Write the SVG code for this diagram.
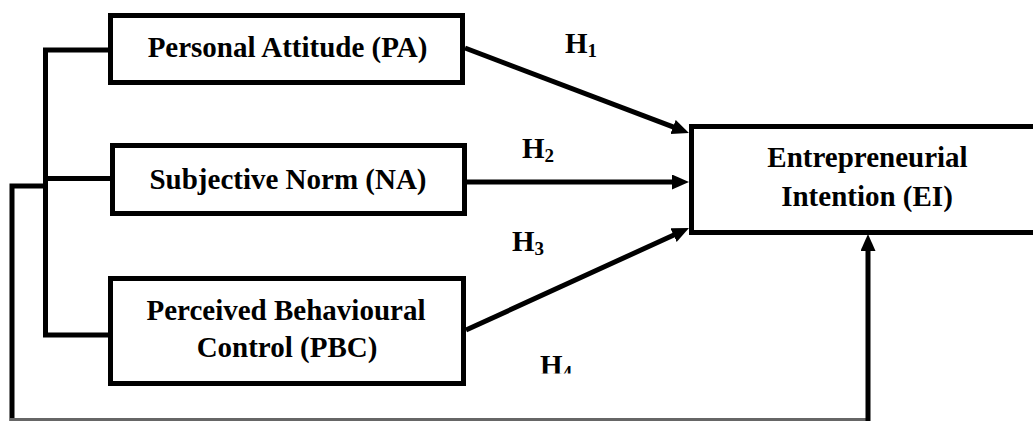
<svg xmlns="http://www.w3.org/2000/svg" width="1033" height="421" viewBox="0 0 1033 421">
<style>
.box{fill:#fff;stroke:#000;stroke-width:5}
.lbl{font-family:"Liberation Serif","Times New Roman",serif;font-weight:bold;font-size:29px;fill:#000;text-anchor:middle}
.h{font-family:"Liberation Serif","Times New Roman",serif;font-weight:bold;font-size:29px;fill:#000}
.sub{font-size:19px}
.ln{fill:none;stroke:#000;stroke-width:5}
.arr{fill:none;stroke:#000;stroke-width:5;marker-end:url(#ah)}
</style>
<defs>
<marker id="ah" markerUnits="userSpaceOnUse" markerWidth="18" markerHeight="16" refX="7" refY="7.5" orient="auto" viewBox="0 0 18 16">
<path d="M0,0 L17,7.5 L0,15 z" fill="#000"/>
</marker>
<clipPath id="h4clip"><rect x="520" y="330" width="80" height="43.5"/></clipPath>
</defs>
<rect width="1033" height="421" fill="#fff"/>
<g id="connectors">
<path class="ln" d="M110,50 H45.5 V335 H110"/>
<path class="ln" d="M45.5,178.5 H112"/>
<path class="ln" d="M45.5,186 H12 V421"/>
<path d="M10,419.5 H870" fill="none" stroke="#666" stroke-width="3"/>
<path class="arr" d="M868,421 V244"/>
<path class="arr" d="M465,48 L679.6,129.4"/>
<path class="arr" d="M467,182 L679,182"/>
<path class="arr" d="M466,330 L679.9,232.2"/>
</g>
<g id="pa">
<rect class="box" x="110.5" y="15.5" width="352" height="67"/>
<text class="lbl" x="287.5" y="57">Personal Attitude (PA)</text>
</g>
<g id="sn">
<rect class="box" x="112.5" y="145.5" width="352" height="68"/>
<text class="lbl" x="288" y="189">Subjective Norm (NA)</text>
</g>
<g id="pbc">
<rect class="box" x="110.5" y="278.5" width="353" height="105"/>
<text class="lbl" x="286" y="320">Perceived Behavioural</text>
<text class="lbl" x="287" y="357">Control (PBC)</text>
</g>
<g id="ei">
<rect class="box" x="691.5" y="126.5" width="360" height="106"/>
<text class="lbl" x="867.5" y="167">Entrepreneurial</text>
<text class="lbl" x="867" y="206">Intention (EI)</text>
</g>
<g id="labels">
<text class="h" x="565" y="53">H<tspan class="sub" dy="4">1</tspan></text>
<text class="h" x="522" y="158">H<tspan class="sub" dy="4">2</tspan></text>
<text class="h" x="512" y="251">H<tspan class="sub" dy="4">3</tspan></text>
<text class="h" x="540" y="375" clip-path="url(#h4clip)">H<tspan class="sub" dy="4">4</tspan></text>
</g>
</svg>
